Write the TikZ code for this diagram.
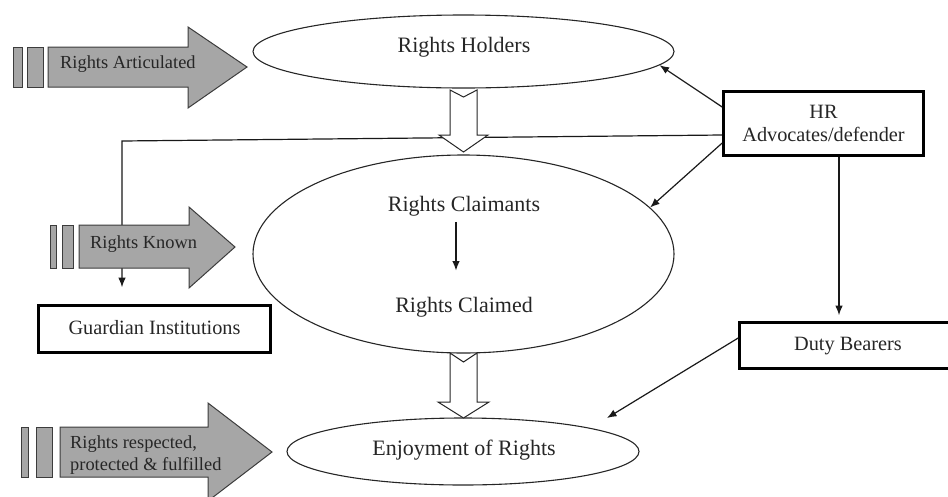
\documentclass[tikz,border=0pt]{standalone}
\usepackage{fontspec}
\setmainfont{Liberation Serif}
\usetikzlibrary{shapes.geometric,arrows.meta}
\definecolor{arrgray}{RGB}{166,166,166}
\definecolor{edgegray}{RGB}{60,60,60}
\tikzset{
  oval/.style={draw=black!85, ellipse, line width=1.1pt, inner sep=0pt},
  ovallbl/.style={font=\fontsize{22}{24}\selectfont, inner sep=0pt, text=black!85},
  boxnode/.style={draw=black, line width=2.6pt, inner sep=0pt, font=\fontsize{20.3}{23}\selectfont, text=black!85},
  boxtext/.style={text height=14pt, text depth=4pt},
  conn/.style={draw=black!90, line width=1.2pt, -{Latex[length=9.5pt,width=7.5pt]}},
  bigarrow/.style={fill=arrgray, draw=edgegray, line width=1pt},
  hollow/.style={fill=white, draw=black!85, line width=1pt},
  arrlbl/.style={font=\fontsize{18.4}{22}\selectfont, inner sep=0pt, align=left, text=black!85},
}
\begin{document}
\begin{tikzpicture}[x=1pt,y=-1pt]
\useasboundingbox (0,0) rectangle (948,496);
\clip (0,0) rectangle (948,496);

% ellipses
\node[oval, minimum width=421pt, minimum height=73pt] (holders) at (463.5,51.5) {};
\node[oval, minimum width=421pt, minimum height=198pt] (claim) at (463.5,254) {};
\node[oval, minimum width=352pt, minimum height=67pt] (enjoy) at (463,451.5) {};

% boxes
\node[boxnode, boxtext, minimum width=232pt, minimum height=47pt] (guard) at (154.5,329) {Guardian Institutions};
\node[boxnode, minimum width=200pt, minimum height=64pt, align=center] (hr) at (823.5,123.5) {HR\\Advocates/defender};
\node[boxnode, boxtext, minimum width=217pt, minimum height=46pt] (duty) at (848,345.5) {Duty Bearers};

% ellipse texts
\node[ovallbl, anchor=base] (tholders) at (464,52) {Rights Holders};
\node[ovallbl, anchor=base] (tclaimants) at (464,211) {Rights Claimants};
\node[ovallbl, anchor=base] (tclaimed) at (464,312) {Rights Claimed};
\node[ovallbl, anchor=base] (tenjoy) at (464,455) {Enjoyment of Rights};

% connectors
\coordinate (gcorner) at (122,141);
\coordinate (enjoytip) at (607,418);
\draw[conn] (hr.west |- 0,107) -- (holders.-4.9);
\draw[conn] (hr.west |- 0,143) -- (claim.14.2);
\draw[conn, shorten >=17pt] (hr.west |- 0,135) -- (gcorner) -- (gcorner |- guard.north);
\draw[conn, shorten >=6pt] (hr.south -| 839,0) -- (duty.north -| 839,0);
\draw[conn] (duty.west |- 0,338) -- (enjoytip);
\draw[conn] ([xshift=-8pt,yshift=-6pt]tclaimants.south) -- ([xshift=-8pt,yshift=26pt]tclaimed.north);

% hollow block arrows
\path[hollow] (450,90) -- (463.5,97) -- (477,90) -- (477,135) -- (488,135) -- (463.5,152) -- (439,135) -- (450,135) -- cycle;
\path[hollow] (450,353) -- (463.5,362) -- (477,353) -- (477,402) -- (489,402) -- (463.5,418) -- (438,402) -- (450,402) -- cycle;

% grey block arrows
\path[bigarrow] (13,47) rectangle (22,87);
\path[bigarrow] (27,47) rectangle (43,87);
\path[bigarrow] (48,47) -- (188,47) -- (188,27) -- (247,67) -- (188,108) -- (188,87) -- (48,87) -- cycle;

\path[bigarrow] (50,225) rectangle (56,268);
\path[bigarrow] (62,225) rectangle (73,268);
\path[bigarrow] (79,225) -- (189,225) -- (189,207) -- (235,247) -- (189,288) -- (189,268) -- (79,268) -- cycle;

\path[bigarrow] (21,427) rectangle (28,477);
\path[bigarrow] (36,427) rectangle (52,477);
\path[bigarrow] (60,427) -- (208,427) -- (208,403) -- (272,452) -- (208,501) -- (208,477) -- (60,477) -- cycle;

% grey arrow labels
\node[arrlbl, anchor=base west] (artic) at (60,68) {Rights Articulated};
\node[arrlbl, anchor=base west] (known) at (90,248) {Rights Known};
\node[arrlbl, anchor=base west] (respect1) at (70,448) {Rights respected,};
\node[arrlbl, anchor=base west] (respect2) at (70,470) {protected \& fulfilled};
\end{tikzpicture}
\end{document}
